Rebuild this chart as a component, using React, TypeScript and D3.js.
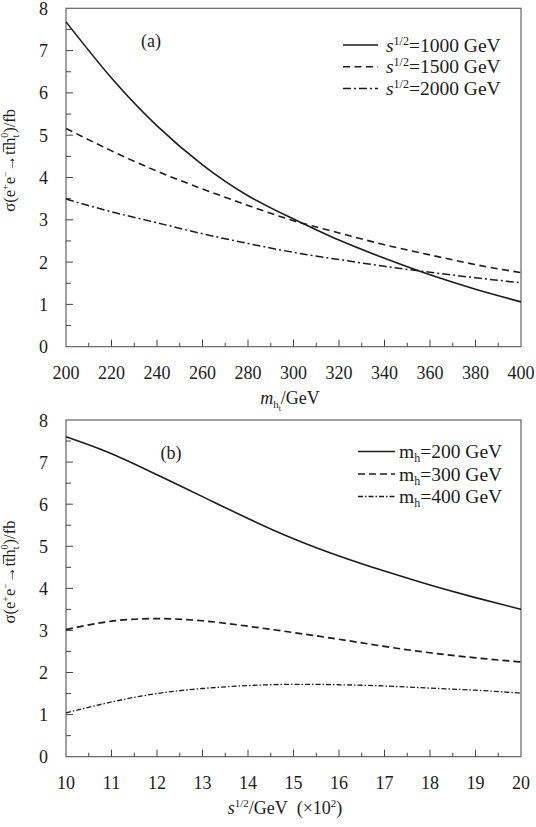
import * as d3 from "d3";

// panel (a): cross section vs Higgs mass
const massTicks = [200, 220, 240, 260, 280, 300, 320, 340, 360, 380, 400];
const sigma1000 = [7.68, 6.35, 5.22, 4.3, 3.57, 3.02, 2.52, 2.09, 1.7, 1.36, 1.06];
const sigma1500 = [5.16, 4.63, 4.15, 3.73, 3.34, 2.98, 2.69, 2.41, 2.17, 1.94, 1.75];
const sigma2000 = [3.49, 3.19, 2.93, 2.67, 2.44, 2.23, 2.06, 1.9, 1.76, 1.63, 1.51];

// panel (b): cross section vs sqrt(s) (x100 GeV)
const energyTicks = [10, 11, 12, 13, 14, 15, 16, 17, 18, 19, 20];
const sigmaMh200 = [7.6, 7.2, 6.7, 6.18, 5.66, 5.18, 4.77, 4.41, 4.08, 3.78, 3.5];
const sigmaMh300 = [3.02, 3.22, 3.28, 3.23, 3.1, 2.95, 2.79, 2.62, 2.47, 2.35, 2.25];
const sigmaMh400 = [1.04, 1.3, 1.5, 1.62, 1.69, 1.72, 1.71, 1.68, 1.63, 1.58, 1.51];

const yTicks = [0, 1, 2, 3, 4, 5, 6, 7, 8];

const W = 536;
const H = 827;
const LEFT = 66;
const RIGHT = 521;
const INK = "#1c1c1c";
const FONT = '"Liberation Serif", "DejaVu Serif", "Times New Roman", serif';

type Series = { values: number[]; dash: string; width: number };

const YLabel = ({ cy }: { cy: number }) => (
  <text transform={`translate(15,${cy}) rotate(-90)`} textAnchor="middle" fontSize={16.5} fill={INK}>
    σ(e
    <tspan dy={-6} fontSize={10}>+</tspan>
    <tspan dy={6}>e</tspan>
    <tspan dy={-6} fontSize={10}>−</tspan>
    <tspan dy={6}>→tt̅h</tspan>
    <tspan dy={4} fontSize={10}>t</tspan>
    <tspan dx={-3} dy={-11} fontSize={10}>0</tspan>
    <tspan dy={7}>)/fb</tspan>
  </text>
);

function Panel(props: {
  top: number;
  bottom: number;
  xs: number[];
  minorStep: number;
  series: Series[];
  tag: string;
  tagX: number;
  legendLabels: (i: number) => any;
  legendLine: [number, number];
  legendTextX: number;
  legendY: number;
  legendGap: number;
  xTitle: any;
  xTitleX: number;
}) {
  const { top, bottom, xs } = props;
  const x = d3.scaleLinear().domain([xs[0], xs[xs.length - 1]]).range([LEFT, RIGHT]);
  const y = d3.scaleLinear().domain([0, 8]).range([bottom, top]);
  const line = d3
    .line<number>()
    .x((_, i) => x(xs[i]))
    .y((d) => y(d))
    .curve(d3.curveNatural);

  const xMinor = d3.range(xs[0] + props.minorStep, xs[xs.length - 1], props.minorStep * 2);
  const yMinor = d3.range(0.5, 8, 1);

  return (
    <g>
      <rect x={LEFT} y={top} width={RIGHT - LEFT} height={bottom - top} fill="none" stroke="#555" strokeWidth={1.1} />
      {yTicks.slice(1, -1).map((t) => (
        <line key={"ym" + t} x1={LEFT} x2={LEFT + 7} y1={y(t)} y2={y(t)} stroke="#444" />
      ))}
      {yMinor.map((t) => (
        <line key={"yn" + t} x1={LEFT} x2={LEFT + 5} y1={y(t)} y2={y(t)} stroke="#444" />
      ))}
      {xs.slice(1, -1).map((t) => (
        <line key={"xm" + t} x1={x(t)} x2={x(t)} y1={bottom} y2={bottom - 7} stroke="#444" />
      ))}
      {xMinor.map((t) => (
        <line key={"xn" + t} x1={x(t)} x2={x(t)} y1={bottom} y2={bottom - 4} stroke="#444" />
      ))}
      {yTicks.map((t) => (
        <text key={"yl" + t} x={48} y={y(t) + 6.5} textAnchor="end" fontSize={18} fill={INK}>
          {t}
        </text>
      ))}
      {xs.map((t) => (
        <text key={"xl" + t} x={x(t)} y={bottom + 32} textAnchor="middle" fontSize={18} fill={INK}>
          {t}
        </text>
      ))}
      {props.series.map((s, i) => (
        <path
          key={"s" + i}
          d={line(s.values) || ""}
          fill="none"
          stroke={INK}
          strokeWidth={s.width}
          strokeDasharray={s.dash}
        />
      ))}
      <text x={props.tagX} y={top + 39} textAnchor="middle" fontSize={18} fill={INK}>
        {props.tag}
      </text>
      {props.series.map((s, i) => {
        const ly = props.legendY + i * props.legendGap;
        return (
          <g key={"lg" + i}>
            <line
              x1={props.legendLine[0]}
              x2={props.legendLine[1]}
              y1={ly}
              y2={ly}
              stroke={INK}
              strokeWidth={s.width}
              strokeDasharray={s.dash}
            />
            <text x={props.legendTextX} y={ly + 6.5} fontSize={19.5} fill={INK}>
              {props.legendLabels(i)}
            </text>
          </g>
        );
      })}
      <text x={props.xTitleX} y={bottom + 57} textAnchor="middle" fontSize={18} fill={INK}>
        {props.xTitle}
      </text>
      <YLabel cy={top + 152} />
    </g>
  );
}

const energies = ["1000", "1500", "2000"];
const masses = ["200", "300", "400"];

export default function App() {
  return (
    <svg
      width={W}
      height={H}
      style={{ position: "absolute", left: 0, top: 0, background: "#fff", fontFamily: FONT }}
    >
      <rect width={W} height={H} fill="#fff" />
      <Panel
        top={8.3}
        bottom={346.7}
        xs={massTicks}
        minorStep={10}
        series={[
          { values: sigma1000, dash: "", width: 1.6 },
          { values: sigma1500, dash: "7,4.5", width: 1.6 },
          { values: sigma2000, dash: "8,3,2,3", width: 1.5 },
        ]}
        tag="(a)"
        tagX={151}
        legendLine={[343, 378]}
        legendTextX={386}
        legendY={45}
        legendGap={21.7}
        legendLabels={(i) => (
          <>
            <tspan fontStyle="italic">s</tspan>
            <tspan dy={-7} fontSize={12}>1/2</tspan>
            <tspan dy={7}>={energies[i]} GeV</tspan>
          </>
        )}
        xTitle={
          <>
            <tspan fontStyle="italic">m</tspan>
            <tspan dy={4} fontSize={11}>h</tspan>
            <tspan dy={3} fontSize={8}>t</tspan>
            <tspan dy={-7}>/GeV</tspan>
          </>
        }
        xTitleX={290}
      />
      <Panel
        top={420}
        bottom={756.7}
        xs={energyTicks}
        minorStep={0.5}
        series={[
          { values: sigmaMh200, dash: "", width: 1.6 },
          { values: sigmaMh300, dash: "7,4", width: 1.7 },
          { values: sigmaMh400, dash: "5,2,1.5,2", width: 1.3 },
        ]}
        tag="(b)"
        tagX={171}
        legendLine={[358, 395]}
        legendTextX={399}
        legendY={451.5}
        legendGap={22.5}
        legendLabels={(i) => (
          <>
            m<tspan dy={4} fontSize={12}>h</tspan>
            <tspan dy={-4}>={masses[i]} GeV</tspan>
          </>
        )}
        xTitle={
          <>
            <tspan fontStyle="italic">s</tspan>
            <tspan dy={-7} fontSize={11}>1/2</tspan>
            <tspan dy={7}>/GeV</tspan>
            <tspan dx={9}>(×10</tspan>
            <tspan dy={-7} fontSize={11}>2</tspan>
            <tspan dy={7}>)</tspan>
          </>
        }
        xTitleX={285}
      />
    </svg>
  );
}
